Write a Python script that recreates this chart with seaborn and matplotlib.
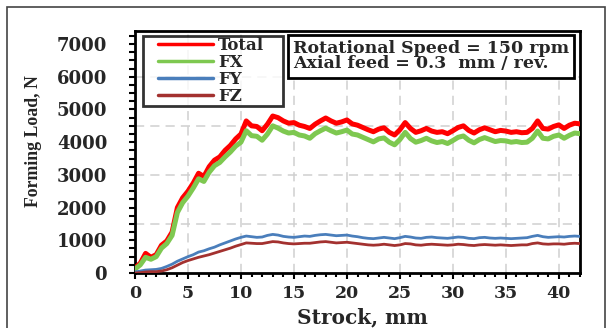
import numpy as np
import pandas as pd
import matplotlib
matplotlib.use("Agg")
import matplotlib.pyplot as plt
from matplotlib.patches import Rectangle
from matplotlib.ticker import MultipleLocator, FixedLocator
from matplotlib.legend_handler import HandlerLine2D
import seaborn as sns

# ---------------- data ----------------
STROKE = [0, 0.5, 1, 1.5, 2, 2.5, 3, 3.5, 4, 4.5, 5, 5.5, 6, 6.5, 7, 7.5, 8, 8.5, 9, 9.5,
          10, 10.5, 11, 11.5, 12, 12.5, 13, 13.5, 14, 14.5, 15, 15.5, 16, 16.5, 17, 17.5,
          18, 18.5, 19, 19.5, 20, 20.5, 21, 21.5, 22, 22.5, 23, 23.5, 24, 24.5, 25, 25.5,
          26, 26.5, 27, 27.5, 28, 28.5, 29, 29.5, 30, 30.5, 31, 31.5, 32, 32.5, 33, 33.5,
          34, 34.5, 35, 35.5, 36, 36.5, 37, 37.5, 38, 38.5, 39, 39.5, 40, 40.5, 41, 41.5, 42]

TOTAL = [150, 300, 600, 480, 560, 850, 980, 1250, 2000, 2300, 2500, 2750, 3050, 2950, 3250, 3450,
         3550, 3750, 3900, 4100, 4250, 4650, 4500, 4480, 4350, 4550, 4800, 4750, 4650, 4580,
         4600, 4520, 4480, 4420, 4550, 4650, 4740, 4650, 4580, 4620, 4680, 4560, 4520, 4450,
         4380, 4320, 4400, 4440, 4300, 4220, 4380, 4600, 4420, 4300, 4350, 4420, 4340, 4300,
         4320, 4260, 4350, 4450, 4500, 4360, 4280, 4380, 4440, 4380, 4320, 4360, 4340, 4300,
         4320, 4290, 4300, 4420, 4650, 4420, 4400, 4480, 4530, 4420, 4520, 4580, 4560]

FX = [120, 250, 480, 420, 500, 760, 900, 1150, 1850, 2150, 2350, 2600, 2880, 2800, 3080, 3280,
      3380, 3550, 3700, 3880, 4000, 4350, 4200, 4180, 4060, 4250, 4500, 4430, 4340, 4280,
      4300, 4220, 4190, 4120, 4260, 4350, 4430, 4350, 4280, 4320, 4370, 4250, 4220, 4150,
      4080, 4010, 4100, 4130, 4000, 3920, 4080, 4300, 4110, 4000, 4050, 4120, 4040, 3990,
      4020, 3960, 4050, 4150, 4190, 4060, 3980, 4080, 4140, 4080, 4020, 4050, 4040, 4000,
      4020, 3990, 4000, 4120, 4340, 4120, 4100, 4180, 4220, 4120, 4210, 4280, 4260]

FY = [30, 60, 90, 100, 110, 140, 200, 270, 360, 430, 500, 560, 640, 680, 740, 790, 860, 920,
      980, 1040, 1090, 1130, 1110, 1090, 1100, 1150, 1180, 1160, 1120, 1100, 1090, 1110, 1130,
      1120, 1150, 1170, 1180, 1160, 1140, 1150, 1160, 1130, 1110, 1080, 1060, 1050, 1070, 1090,
      1070, 1050, 1080, 1120, 1100, 1070, 1060, 1090, 1100, 1080, 1070, 1060, 1080, 1100, 1090,
      1060, 1050, 1080, 1090, 1070, 1060, 1070, 1060, 1050, 1060, 1070, 1080, 1120, 1150, 1110,
      1090, 1100, 1110, 1100, 1120, 1130, 1120]

FZ = [0, 10, 30, 40, 40, 60, 100, 160, 240, 320, 380, 430, 480, 520, 560, 610, 660, 710, 760,
      820, 870, 920, 910, 900, 900, 930, 960, 950, 920, 900, 890, 900, 910, 910, 930, 950, 960,
      940, 920, 930, 940, 920, 900, 880, 860, 850, 860, 880, 860, 840, 860, 900, 890, 860, 850,
      870, 880, 870, 860, 850, 860, 880, 870, 850, 840, 860, 870, 860, 850, 860, 850, 840, 850,
      860, 860, 900, 920, 890, 880, 890, 890, 880, 900, 910, 900]

SERIES = ["Total", "FX", "FY", "FZ"]
COLORS = ["#ff0000", "#7ec850", "#4a7ebb", "#a3312f"]
WIDTHS = [3.6, 3.6, 2.0, 2.0]

X_TICKS = [0, 5, 10, 15, 20, 25, 30, 35, 40]
Y_TICKS = [0, 1000, 2000, 3000, 4000, 5000, 6000, 7000]
GRID_Y = [1500, 3000, 4500, 6000]

X_LABEL = "Strock, mm"
Y_LABEL = "Forming Load, N"
INFO = "Rotational Speed = 150 rpm\nAxial feed = 0.3  mm / rev."

# ---------------- plot ----------------
sns.set_theme(style="white")
plt.rcParams["font.family"] = ["DejaVu Serif"]
plt.rcParams["font.weight"] = "bold"

df = pd.DataFrame({"Strock": STROKE, "Total": TOTAL, "FX": FX, "FY": FY, "FZ": FZ})

fig = plt.figure(figsize=(6.09, 3.28), dpi=100)
ax = fig.add_axes([135 / 609, 1 - 273 / 328, 445 / 609, 242 / 328])

for name, col, lw in zip(SERIES, COLORS, WIDTHS):
    sns.lineplot(data=df, x="Strock", y=name, ax=ax, color=col, linewidth=lw,
                 label=name, zorder=3)

ax.set_xlim(0, 42)
ax.set_ylim(0, 7400)

ax.xaxis.set_major_locator(FixedLocator(X_TICKS))
ax.xaxis.set_minor_locator(MultipleLocator(1))
ax.yaxis.set_major_locator(FixedLocator(Y_TICKS))
ax.yaxis.set_minor_locator(MultipleLocator(250))

ax.grid(False)
for gx in X_TICKS[1:]:
    ax.axvline(gx, color="#cfcfcf", lw=1.1, ls=(0, (6, 4)), zorder=1)
for gy in GRID_Y:
    ax.axhline(gy, color="#cfcfcf", lw=1.1, ls=(0, (6, 4)), zorder=1)

for s in ax.spines.values():
    s.set_linewidth(2.0)
    s.set_color("black")

ax.tick_params(axis="both", which="both", direction="out", color="black",
               bottom=True, left=True, top=False, right=False)
ax.tick_params(axis="y", which="major", length=4, width=1.5, pad=16, labelsize=13)
ax.tick_params(axis="y", which="minor", length=4, width=1.5)
ax.tick_params(axis="x", which="major", length=4, width=1.5, pad=5, labelsize=12.5)
ax.tick_params(axis="x", which="minor", length=3, width=1.5)
for lab in ax.get_xticklabels() + ax.get_yticklabels():
    lab.set_fontweight("bold")

ax.set_xlabel(X_LABEL, fontsize=14.5, fontweight="bold")
ax.set_ylabel(Y_LABEL, fontsize=12.8, fontweight="bold",
              family=["Liberation Serif", "DejaVu Serif"])
ax.yaxis.set_label_coords(-0.209, 0.545)
ax.xaxis.set_label_coords(0.51, -0.144)

hm = {h: HandlerLine2D(xpad=0.85) for h in ax.get_lines()}
leg = ax.legend(loc="upper left", bbox_to_anchor=(0.018, 0.679, 0.3146, 0.3),
                mode="expand", borderaxespad=0,
                frameon=True, fancybox=False, borderpad=0.05,
                labelspacing=0.0, handlelength=4.15, handletextpad=0.3,
                handler_map=hm, prop={"weight": "bold", "size": 12})
leg.get_frame().set_edgecolor("black")
leg.get_frame().set_linewidth(2.0)
leg.get_frame().set_facecolor("white")
leg.set_zorder(5)
for line in leg.get_lines():
    line.set_linewidth(2.5)

ax.text(0.355, 0.963, INFO, transform=ax.transAxes, ha="left", va="top",
        fontsize=12.5, fontweight="bold", linespacing=0.88, zorder=6,
        bbox=dict(boxstyle="square,pad=0.3", facecolor="white", edgecolor="black",
                  linewidth=2.0))

fig.patches.append(Rectangle((7 / 609, -0.1), 598 / 609, 1.1 - 7 / 328,
                             transform=fig.transFigure, fill=False,
                             edgecolor="#444444", linewidth=1.2, clip_on=False))

fig.savefig("out.png", dpi=100)
